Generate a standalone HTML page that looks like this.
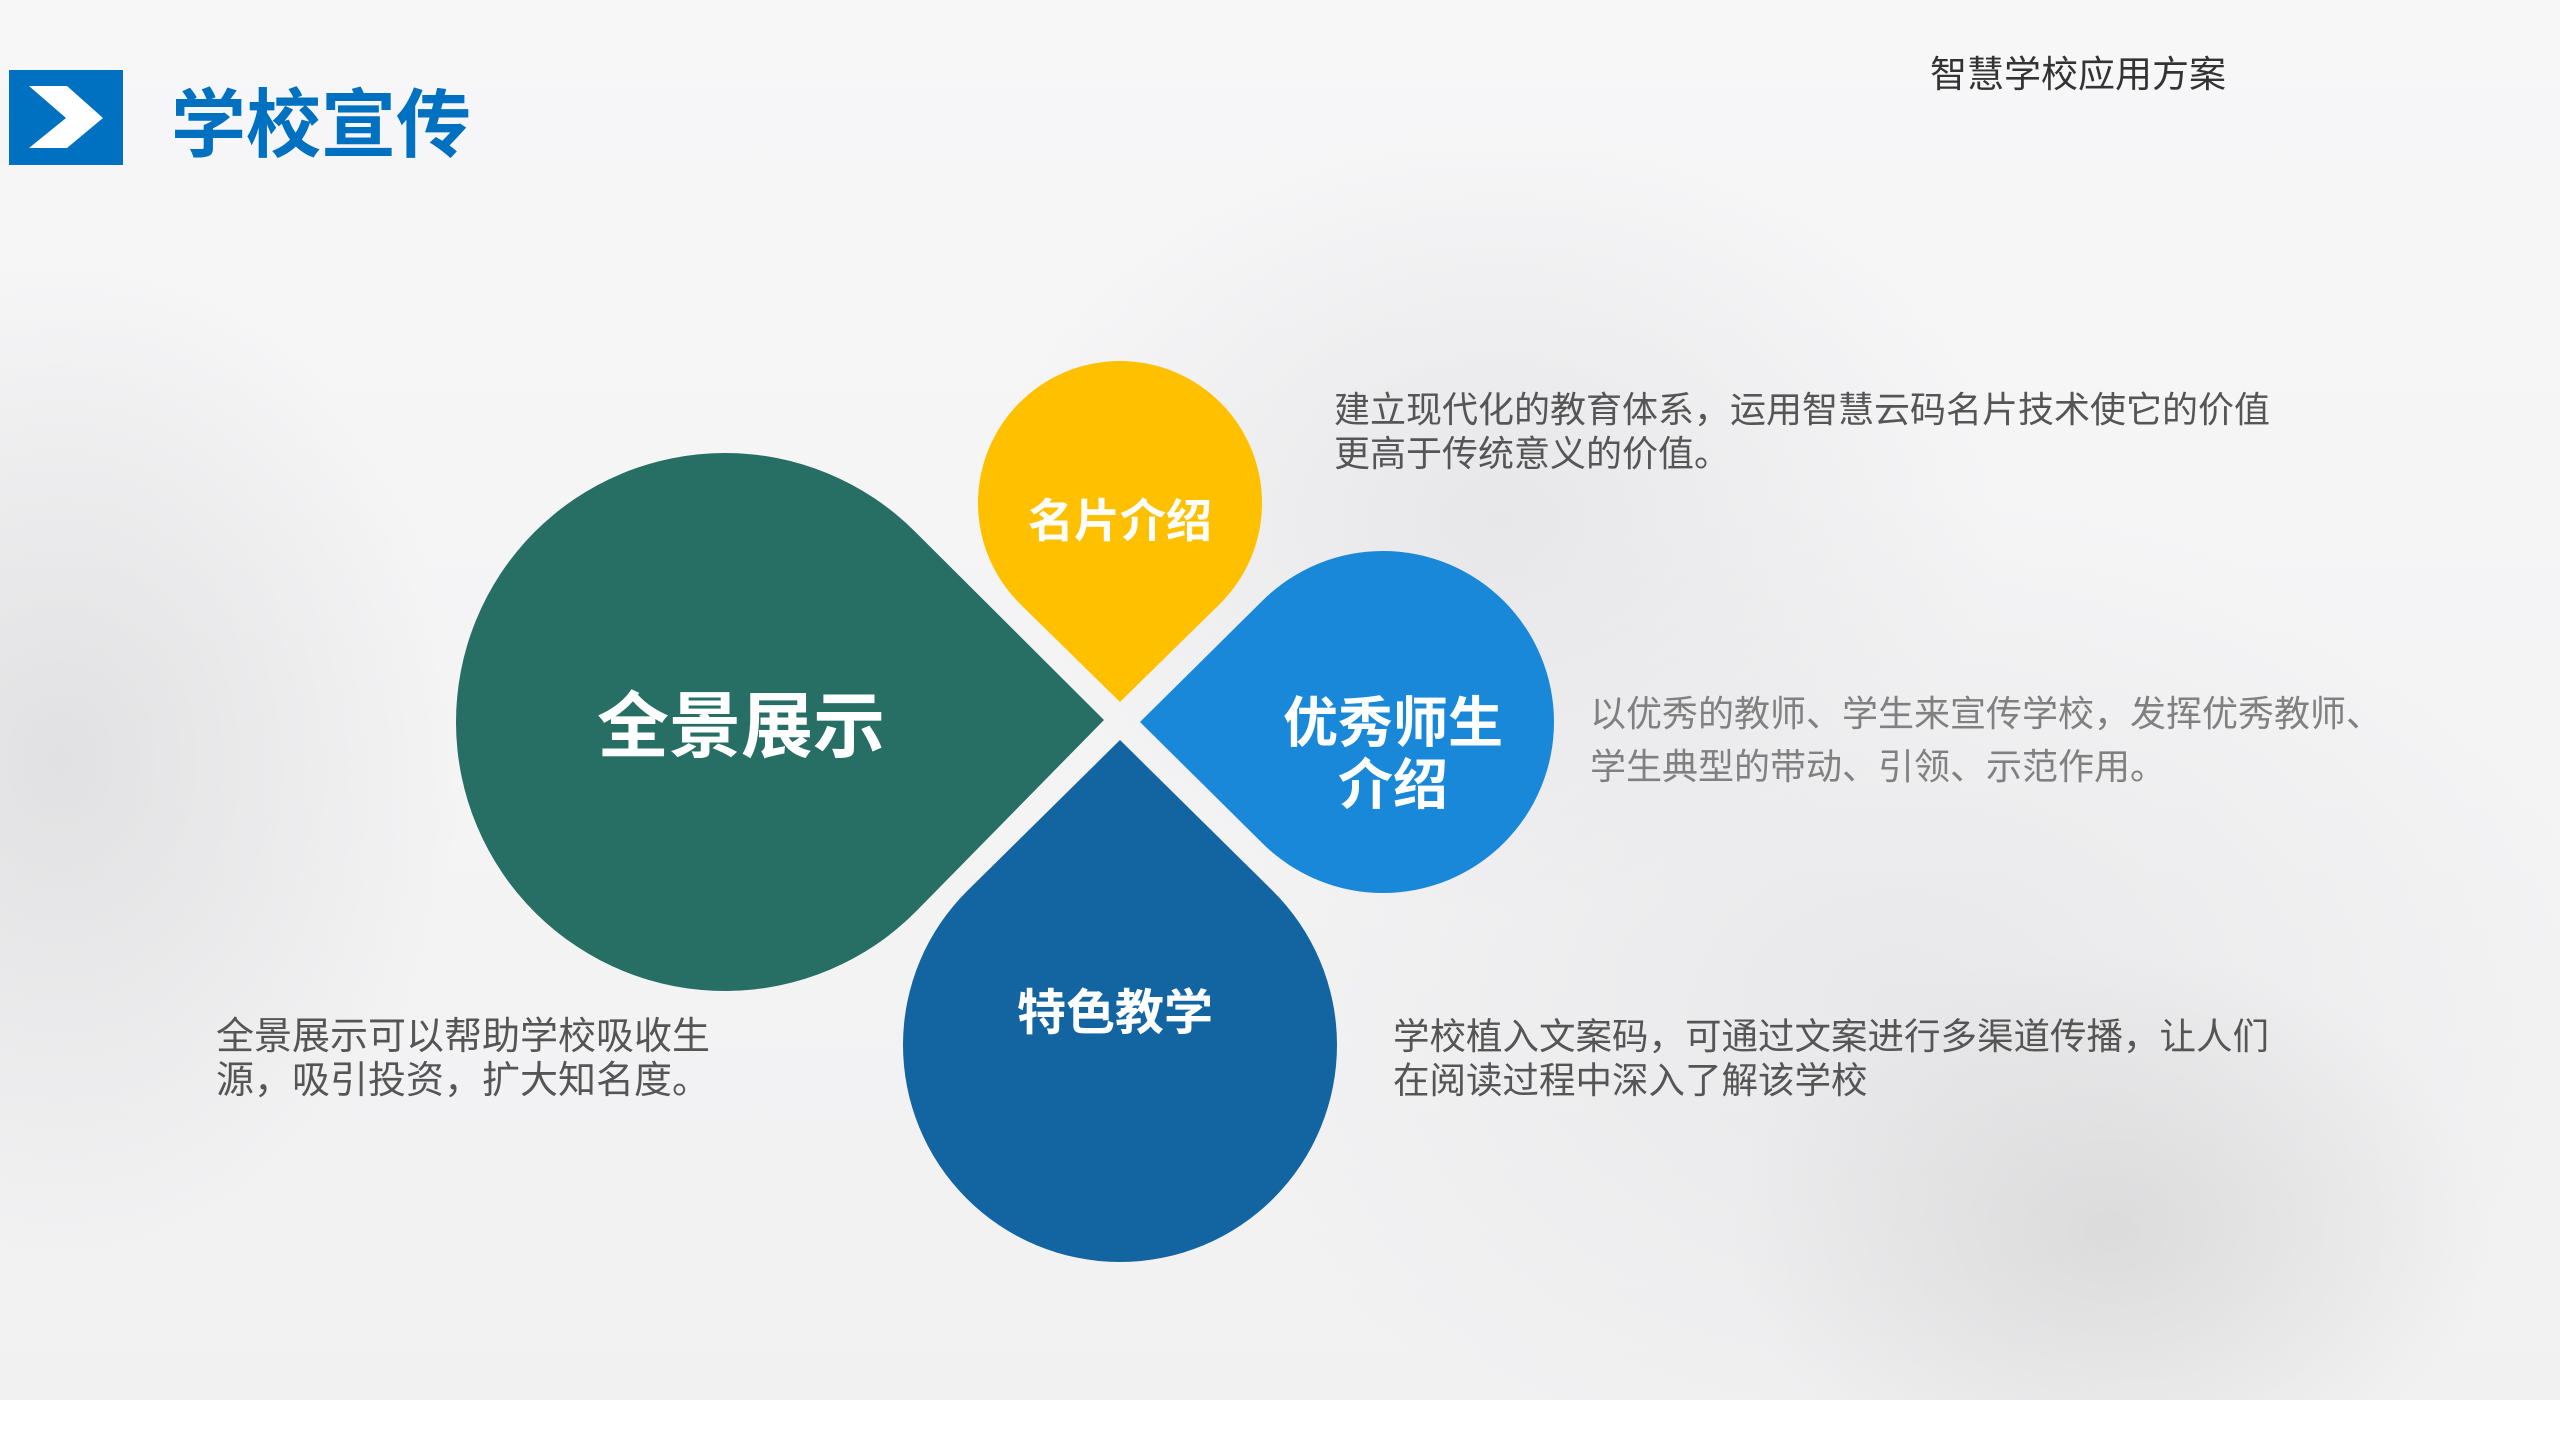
<!DOCTYPE html>
<html><head><meta charset="utf-8"><style>
html,body{margin:0;padding:0}
body{width:2560px;height:1440px;position:relative;overflow:hidden;font-family:"Liberation Sans","Noto Sans CJK SC",sans-serif;
background:
radial-gradient(ellipse 380px 280px at 2110px 1230px,rgba(205,205,205,.55),rgba(205,205,205,0)),
radial-gradient(ellipse 500px 400px at 1500px 520px,rgba(225,225,228,.7),rgba(225,225,228,0)),
radial-gradient(ellipse 400px 500px at 60px 760px,rgba(220,220,222,.8),rgba(220,220,222,0)),
radial-gradient(ellipse 700px 500px at 1900px 1000px,rgba(225,225,228,.6),rgba(225,225,228,0)),
linear-gradient(#f7f7f8,#f1f1f2);}
.t{position:absolute;white-space:nowrap}
.d{font-size:36px;line-height:44px;color:#555}
.l{font-size:36px;line-height:53px;color:#808080}
.w{position:absolute;color:#fff;font-weight:bold;text-align:center;white-space:nowrap;transform:translate(-50%,-50%)}
.bot{position:absolute;left:0;top:1400px;width:2560px;height:40px;background:#fff}
</style></head><body>
<svg width="123" height="166" style="position:absolute;left:0;top:0">
<rect x="9" y="70" width="114" height="95" fill="#0070c0"/>
<polygon points="29,86 67,86 103,118 67,148 29,148 66,118" fill="#fff"/>
</svg>
<div class="t" style="left:171px;top:80px;font-size:75px;line-height:90px;font-weight:bold;color:#0070c0">学校宣传</div>
<div class="t" style="left:1930px;top:52px;font-size:37px;line-height:46px;color:#333">智慧学校应用方案</div>
<svg id="s" width="2560" height="1440" style="position:absolute;left:0;top:0"></svg>
<div class="w" style="left:741px;top:720px;font-size:72px">全景展示</div>
<div class="w" style="left:1120px;top:518px;font-size:46px">名片介绍</div>
<div class="w" style="left:1393px;top:754px;font-size:55px;line-height:62px">优秀师生<br>介绍</div>
<div class="w" style="left:1115px;top:1009px;font-size:49px">特色教学</div>
<div class="t d" style="left:1334px;top:388px">建立现代化的教育体系，运用智慧云码名片技术使它的价值<br>更高于传统意义的价值。</div>
<div class="t l" style="left:1590px;top:687px">以优秀的教师、学生来宣传学校，发挥优秀教师、<br>学生典型的带动、引领、示范作用。</div>
<div class="t d" style="left:216px;top:1015px;font-size:38px">全景展示可以帮助学校吸收生<br>源，吸引投资，扩大知名度。</div>
<div class="t d" style="left:1393px;top:1015px;font-size:36.5px">学校植入文案码，可通过文案进行多渠道传播，让人们<br>在阅读过程中深入了解该学校</div>
<div class="bot"></div>
<script>
function drop(cx,cy,r,px,py,fill){
 var dx=px-cx,dy=py-cy,d=Math.hypot(dx,dy),a=Math.atan2(dy,dx),t=Math.acos(r/d);
 var x1=cx+r*Math.cos(a+t),y1=cy+r*Math.sin(a+t),x2=cx+r*Math.cos(a-t),y2=cy+r*Math.sin(a-t);
 return '<path fill="'+fill+'" d="M'+px+','+py+' L'+x1+','+y1+' A'+r+','+r+' 0 1 1 '+x2+','+y2+' Z"/>';
}
document.getElementById('s').innerHTML=
 drop(725,722,269,1104,720,'#276f64')+
 drop(1120,503,142,1120,702,'#ffc000')+
 drop(1383,722,171,1140,722,'#1a88d8')+
 drop(1120,1045,217,1120,740,'#1365a2');
</script>
</body></html>
